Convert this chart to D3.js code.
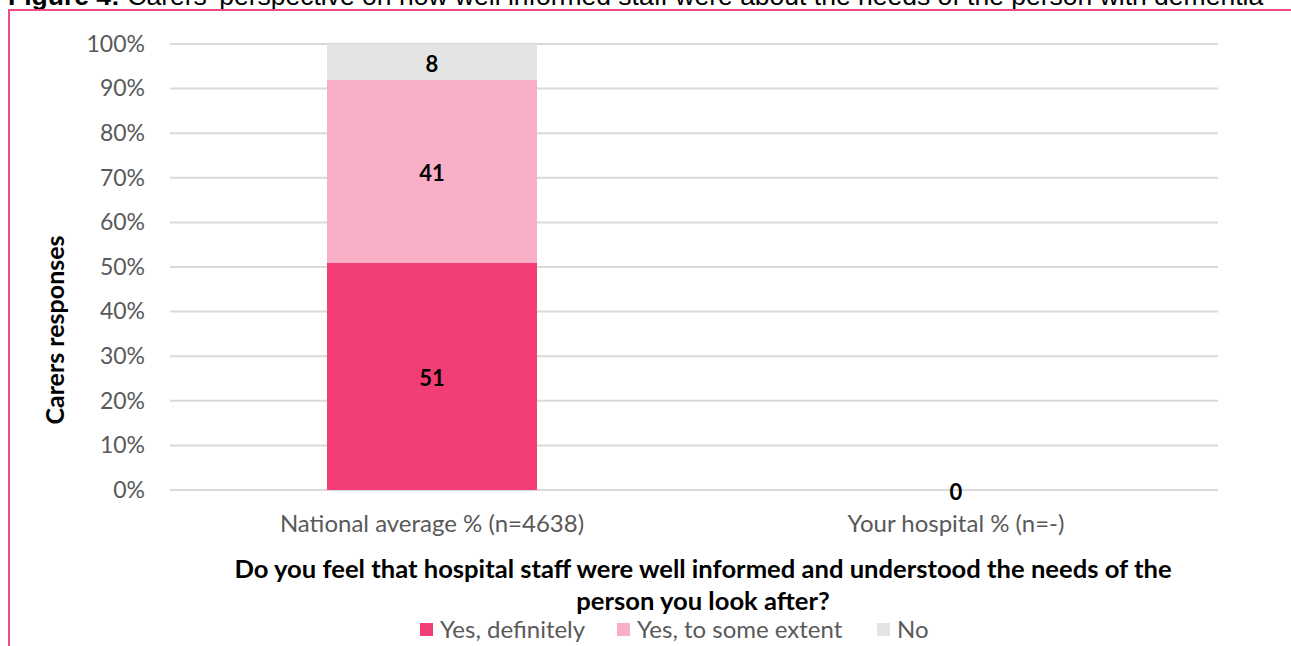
<!DOCTYPE html>
<html>
<head>
<meta charset="utf-8">
<script src="https://cdn.jsdelivr.net/npm/d3@7"></script>
<style>
  body { margin: 0; background: #fff; overflow: hidden; }
  svg { display: block; }
</style>
</head>
<body>
<svg id="chart" width="1291" height="646"></svg>
<script>
// data
var categories = ["National average % (n=4638)", "Your hospital % (n=-)"];
var seriesNames = ["Yes, definitely", "Yes, to some extent", "No"];
var definitely = [51, 0];
var someExtent = [41, 0];
var no = [8, 0];
var yTicks = [0, 10, 20, 30, 40, 50, 60, 70, 80, 90, 100];
var colours = ["#f33d76", "#f9afc6", "#e4e4e4"];

var svg = d3.select("#chart");
var font = "Lato, 'Liberation Sans', sans-serif";

// caption above the frame, cut off by the top edge like in the source
svg.append("text")
  .attr("x", 8).attr("y", 5)
  .style("font-family", "'Liberation Sans', Arial, sans-serif")
  .style("font-size", "26.5px")
  .attr("fill", "#000")
  .call(function (t) {
    t.append("tspan").style("font-weight", "bold").text("Figure 4: ");
    t.append("tspan").text("Carers' perspective on how well informed staff were about the needs of the person with dementia");
  });

// pink frame (top + left visible)
svg.append("path")
  .attr("d", "M9,646V10H1291")
  .attr("fill", "none")
  .attr("stroke", "#ee4d7e")
  .attr("stroke-width", 2);

var x = d3.scaleBand().domain(categories).range([170, 1218]).paddingInner(0.6).paddingOuter(0.3);
var y = d3.scaleLinear().domain([0, 100]).range([490, 44]);

// gridlines
svg.append("g").selectAll("line").data(yTicks).join("line")
  .attr("x1", 170).attr("x2", 1218)
  .attr("y1", function (d) { return y(d); })
  .attr("y2", function (d) { return y(d); })
  .attr("stroke", "#d9d9d9").attr("stroke-width", 2);

// y axis labels
var yAxis = d3.axisLeft(y).tickValues(yTicks).tickSize(0).tickPadding(0)
  .tickFormat(function (d) { return d + "%"; });
svg.append("g").attr("transform", "translate(145,0)").call(yAxis)
  .call(function (g) { g.select(".domain").remove(); })
  .selectAll("text")
  .style("font-family", font).style("font-size", "23px").attr("fill", "#595959");

// stacked bars
var rows = categories.map(function (c, i) {
  return { cat: c, definitely: definitely[i], some: someExtent[i], no: no[i] };
});
var stack = d3.stack().keys(["definitely", "some", "no"]);
var layers = stack(rows);

var barW = 210;
svg.append("g").selectAll("g").data(layers).join("g")
  .attr("fill", function (d, i) { return colours[i]; })
  .selectAll("rect").data(function (d) { return d; }).join("rect")
  .attr("x", function (d) { return x(d.data.cat) + x.bandwidth() / 2 - barW / 2; })
  .attr("width", barW)
  .attr("y", function (d) { return y(d[1]); })
  .attr("height", function (d) { return y(d[0]) - y(d[1]); });

// value labels
var labels = [];
layers.forEach(function (layer) {
  layer.forEach(function (d) {
    var v = d[1] - d[0];
    if (v > 0) labels.push({ cat: d.data.cat, v: v, mid: (d[0] + d[1]) / 2 });
  });
});
labels.push({ cat: categories[1], v: 0, mid: 0 });
svg.append("g").selectAll("text").data(labels).join("text")
  .attr("x", function (d) { return x(d.cat) + x.bandwidth() / 2; })
  .attr("y", function (d) { return y(d.mid) + 10; })
  .attr("text-anchor", "middle")
  .style("font-family", font).style("font-weight", "bold").style("font-size", "22px")
  .attr("fill", "#000")
  .text(function (d) { return d.v; });

// category labels
svg.append("g").selectAll("text").data(categories).join("text")
  .attr("x", function (d) { return x(d) + x.bandwidth() / 2; })
  .attr("y", 532)
  .attr("text-anchor", "middle")
  .style("font-family", font).style("font-size", "24px").attr("fill", "#595959")
  .text(function (d) { return d; });

// y title
svg.append("text")
  .attr("transform", "translate(64,330) rotate(-90)")
  .attr("text-anchor", "middle")
  .style("font-family", font).style("font-weight", "bold").style("font-size", "25px")
  .text("Carers responses");

// x title
var xt = ["Do you feel that hospital staff were well informed and understood the needs of the", "person you look after?"];
svg.append("g").selectAll("text").data(xt).join("text")
  .attr("x", 703)
  .attr("y", function (d, i) { return 578 + i * 32; })
  .attr("text-anchor", "middle")
  .style("font-family", font).style("font-weight", "bold").style("font-size", "25.6px")
  .text(function (d) { return d; });

// legend
var legX = [420, 617, 877];
var leg = svg.append("g").selectAll("g").data(seriesNames).join("g")
  .attr("transform", function (d, i) { return "translate(" + legX[i] + ",623)"; });
leg.append("rect").attr("width", 13).attr("height", 13)
  .attr("fill", function (d, i) { return colours[i]; });
leg.append("text").attr("x", 20).attr("y", 15)
  .style("font-family", font).style("font-size", "24px").attr("fill", "#595959")
  .text(function (d) { return d; });
</script>
</body>
</html>
